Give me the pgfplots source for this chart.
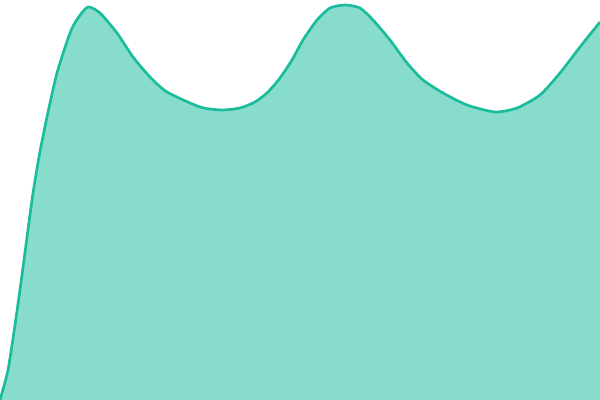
\documentclass[border=0pt]{standalone}
\usepackage{pgfplots}
\pgfplotsset{compat=1.18}
\usepackage{pgfplotstable}
\definecolor{tq}{HTML}{1ABC9C}

\pgfplotstableread{
x y
0 0
8 30
15 75
22 125
32 200
39 243
47 283
57 327
70 367
78 382
88 393
100 387
117 367
133 343
150 323
167 308
200 293
222 290
240 292
255 298
268 308
280 322
292 340
303 360
317 380
330 392
345 395
360 392
373 380
390 360
407 337
423 320
443 307
467 295
495 288
517 292
540 305
560 327
580 353
600 378
}\areadata

\begin{document}
\begin{tikzpicture}
  \begin{axis}[
    width=15cm, height=10cm,
    scale only axis,
    hide axis,
    xmin=0, xmax=600,
    ymin=0, ymax=400,
    clip=true,
  ]
    \path (rel axis cs:0,0) rectangle (rel axis cs:1,1);
    \addplot[draw=none, fill=tq!52!white, smooth, tension=0.4] table {\areadata} \closedcycle;
    \addplot[tq, line width=1.9pt, smooth, tension=0.4] table {\areadata};
  \end{axis}
\end{tikzpicture}
\end{document}
